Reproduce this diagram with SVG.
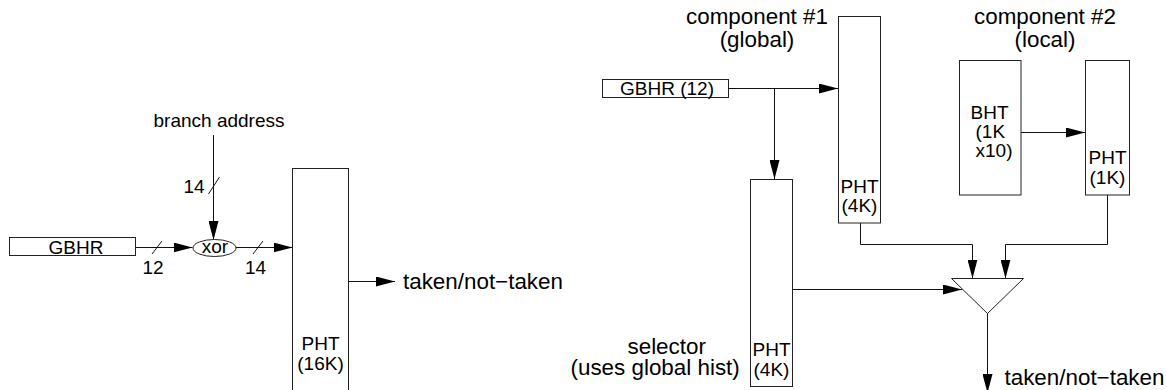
<svg xmlns="http://www.w3.org/2000/svg" width="1167" height="390" viewBox="0 0 1167 390">
<style>
.box{fill:#fff;stroke:#222;stroke-width:1}
.ln{fill:none;stroke:#111;stroke-width:1}
.s{font-family:"Liberation Sans",Arial,sans-serif;font-size:19px;fill:#000}
.l{font-family:"Liberation Sans",Arial,sans-serif;font-size:22.4px;fill:#000}
.c{text-anchor:middle}
</style>
<defs>
<marker id="ah" markerWidth="19" markerHeight="10" refX="19" refY="5" orient="auto" markerUnits="userSpaceOnUse">
<path d="M0,0 L19,5 L0,10 z" fill="#000"/>
</marker>
</defs>

<g id="connectors">
<!-- left -->
<line class="ln" x1="135.5" y1="247.5" x2="192.5" y2="247.5" marker-end="url(#ah)"/>
<line class="ln" x1="152" y1="254" x2="162" y2="241"/>
<line class="ln" x1="213.5" y1="135" x2="213.5" y2="240" marker-end="url(#ah)"/>
<line class="ln" x1="208.5" y1="194" x2="219.5" y2="177"/>
<line class="ln" x1="236" y1="247.5" x2="292.5" y2="247.5" marker-end="url(#ah)"/>
<line class="ln" x1="253" y1="254" x2="263" y2="241"/>
<line class="ln" x1="348.5" y1="281.5" x2="395" y2="281.5" marker-end="url(#ah)"/>
<!-- right -->
<line class="ln" x1="728.5" y1="88.5" x2="838" y2="88.5" marker-end="url(#ah)"/>
<line class="ln" x1="774.5" y1="88.5" x2="774.5" y2="179" marker-end="url(#ah)"/>
<line class="ln" x1="1021" y1="132.5" x2="1085" y2="132.5" marker-end="url(#ah)"/>
<line class="ln" x1="792.5" y1="289.5" x2="962" y2="289.5" marker-end="url(#ah)"/>
<polyline class="ln" points="860.5,223 860.5,244.5 972.5,244.5 972.5,278.5" marker-end="url(#ah)"/>
<polyline class="ln" points="1107.5,195 1107.5,244.5 1005.5,244.5 1005.5,278.5" marker-end="url(#ah)"/>
<line class="ln" x1="987.5" y1="313" x2="987.5" y2="393" marker-end="url(#ah)"/>
</g>

<g id="gbhr-left">
<rect class="box" x="9.5" y="237.5" width="126" height="18"/>
<text class="s c" x="76" y="253.5">GBHR</text>
<text class="s c" x="153" y="273.5">12</text>
</g>

<g id="branch-address">
<text class="s c" x="219" y="127">branch address</text>
<text class="s c" x="194" y="193">14</text>
</g>

<g id="xor">
<ellipse class="box" cx="214.5" cy="248" rx="21.5" ry="8.5"/>
<text class="s c" x="215" y="253">xor</text>
<text class="s c" x="255.5" y="273.5">14</text>
</g>

<g id="pht-16k">
<rect class="box" x="292.5" y="168.5" width="56" height="240"/>
<text class="s c" x="320.5" y="350">PHT</text>
<text class="s c" x="320.5" y="370">(16K)</text>
</g>

<g id="out-left">
<text class="l" x="403" y="288.5">taken/not−taken</text>
</g>

<g id="gbhr-right">
<rect class="box" x="602.5" y="79.5" width="126" height="18"/>
<text class="s c" x="667" y="95">GBHR (12)</text>
</g>

<g id="component1">
<text class="l c" x="757" y="23.5">component #1</text>
<text class="l c" x="757" y="46.5">(global)</text>
<rect class="box" x="838.5" y="16.5" width="42" height="206.5"/>
<text class="s c" x="859.5" y="192.5">PHT</text>
<text class="s c" x="859.5" y="212">(4K)</text>
</g>

<g id="component2">
<text class="l c" x="1045" y="23.5">component #2</text>
<text class="l c" x="1045" y="46.5">(local)</text>
</g>

<g id="bht">
<rect class="box" x="959.5" y="60.5" width="61.5" height="134.5"/>
<text class="s" x="970.5" y="118.5">BHT</text>
<text class="s" x="975.5" y="137.5">(1K</text>
<text class="s" x="975.5" y="156.5">x10)</text>
</g>

<g id="pht-1k">
<rect class="box" x="1085.5" y="60.5" width="44" height="134.5"/>
<text class="s c" x="1107.5" y="164">PHT</text>
<text class="s c" x="1107.5" y="183.5">(1K)</text>
</g>

<g id="selector">
<rect class="box" x="750.5" y="179.5" width="42" height="207"/>
<text class="s c" x="771.5" y="356">PHT</text>
<text class="s c" x="771.5" y="375.5">(4K)</text>
<text class="l" x="627.5" y="354">selector</text>
<text class="l" x="570.5" y="374.5">(uses global hist)</text>
</g>

<g id="mux">
<polygon class="box" points="951.5,278.5 1023.5,278.5 987.5,313.5"/>
</g>

<g id="out-right">
<text class="l" x="1004.5" y="385">taken/not−taken</text>
</g>
</svg>
